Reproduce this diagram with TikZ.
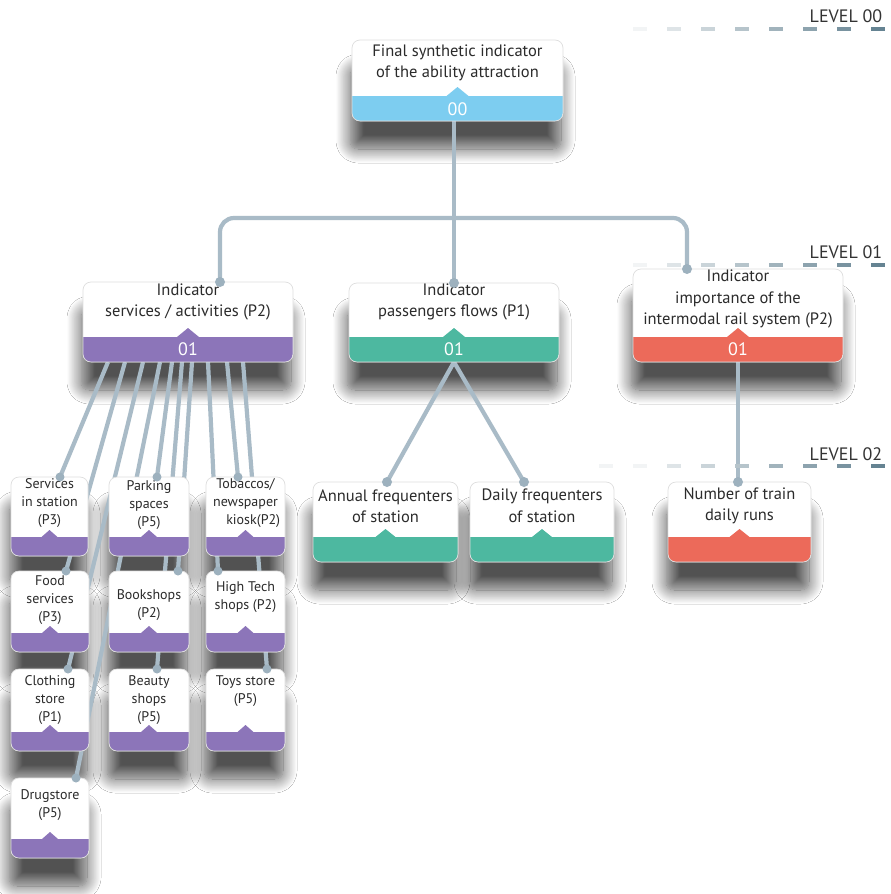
\documentclass[tikz,border=0pt]{standalone}
\usepackage{fontspec}
\setmainfont{PT Sans}
\usetikzlibrary{calc,fit,shadows.blur}
\pgfdeclarelayer{shadowl}
\pgfdeclarelayer{linel}
\pgfdeclarelayer{topl}
\pgfsetlayers{shadowl,linel,main,topl}
\definecolor{cblue}{HTML}{7DCDF0}
\definecolor{cpurple}{HTML}{8C75B9}
\definecolor{cteal}{HTML}{4DB8A0}
\definecolor{ccoral}{HTML}{EC6A5A}
\definecolor{wirec}{HTML}{A9BBC7}
\definecolor{dotc}{HTML}{9DB1BE}
\definecolor{dashd}{HTML}{587888}
\definecolor{txtc}{HTML}{2B2B2B}
\newcommand\card[8][]{%
  \node[card=#7, bandh=#8, #1, fit={(#3,#4) (#5,#6)}] (#2) {};
  \begin{pgfonlayer}{shadowl}
    \fill[white, rounded corners=8pt, blur shadow={shadow xshift=-2pt, shadow yshift=-28pt, shadow blur radius=14pt, shadow blur steps=16, shadow opacity=68}] (#2.south west) rectangle (#2.north east);
  \end{pgfonlayer}
}
\newcommand\lvldashes[2]{%
  \foreach \i in {0,...,#2} {
    \pgfmathsetmacro\dxa{871-34*\i}
    \pgfmathtruncatemacro\dpc{max(8,92-\i*12)}
    \draw[draw=dashd!\dpc!white, line width=3.5pt] (\dxa,#1) -- ++(14,0);
  }%
}
\begin{document}
\begin{tikzpicture}[x=1pt,y=-1pt,
  bandh/.store in=\bandh, bandh=25,
  notchw/.store in=\notchw, notchw=11,
  notchh/.store in=\notchh, notchh=9,
  card/.style={draw=black!13, line width=0.7pt, rounded corners=8pt, fill=white, inner sep=0pt, outer sep=0pt,
    path picture={
      \fill[#1, sharp corners] ($(path picture bounding box.south west)+(0,-\bandh)$) rectangle (path picture bounding box.south east);
      \fill[#1, sharp corners] ($(path picture bounding box.south)+(-\notchw,-\bandh)$) -- ($(path picture bounding box.south)+(0,-\bandh-\notchh)$) -- ($(path picture bounding box.south)+(\notchw,-\bandh)$) -- cycle;
    }},
  small/.style={notchw=8, notchh=7},
  wire/.style={draw=wirec, line width=4.2pt},
  tdot/.style={fill=dotc},
  tbig/.style={text=txtc, font=\fontsize{16.5}{21.5}\selectfont, align=center, inner sep=0pt},
  tsmall/.style={text=txtc, font=\fontsize{14}{18}\selectfont, align=center, inner sep=0pt},
  bandnum/.style={text=white, font=\fontsize{18}{18}\selectfont, inner sep=0pt},
  lvl/.style={text=black!80, font=\fontsize{18}{18}\selectfont, inner sep=0pt}
]
\begin{pgfonlayer}{shadowl}
  \fill[white] (0,0) rectangle (891,894);
\end{pgfonlayer}
\useasboundingbox (0,0) rectangle (891,894);

% dashed guide lines and level labels
\lvldashes{29}{7}
\lvldashes{265}{7}
\lvldashes{466}{8}
\node[lvl] (lv0) at (846,16) {LEVEL 00};
\node[lvl] (lv1) at (846,252) {LEVEL 01};
\node[lvl] (lv2) at (846,454) {LEVEL 02};

% level 00
\card{b00}{352}{40}{563}{121}{cblue}{25}
\node[tbig] (b00t) at (457.5,63) {Final synthetic indicator\\of the ability attraction};
\node[bandnum] (b00n) at (457.5,109) {00};

% level 01
\card{b01a}{83}{282}{293}{362}{cpurple}{25}
\node[tbig] (b01at) at (188,302) {Indicator\\services / activities (P2)};
\node[bandnum] (b01an) at (188,349) {01};
\card{b01b}{349}{283}{559}{362}{cteal}{25}
\node[tbig] (b01bt) at (454,302) {Indicator\\passengers flows (P1)};
\node[bandnum] (b01bn) at (454,349) {01};
\card{b01c}{633}{269}{843}{362}{ccoral}{25}
\node[tbig] (b01ct) at (738,299) {Indicator\\importance of the\\intermodal rail system (P2)};
\node[bandnum] (b01cn) at (738,349) {01};

% level 02
\card[notchw=10,notchh=8]{c1}{313}{482}{458}{562}{cteal}{25}
\node[tbig] (c1t) at (385.5,506) {Annual frequenters\\of station};
\card[notchw=10,notchh=8]{c2}{470}{482}{614}{562}{cteal}{25}
\node[tbig] (c2t) at (542,506) {Daily frequenters\\of station};
\card[notchw=10,notchh=8]{c3}{668}{482}{811}{562}{ccoral}{25}
\node[tbig] (c3t) at (739.5,506) {Number of train\\daily runs};

% small boxes
\card[small]{s11}{11}{477}{88}{556}{cpurple}{19}
\card[small]{s12}{109}{477}{189}{556}{cpurple}{19}
\card[small]{s13}{206}{477}{285}{556}{cpurple}{19}
\card[small]{s21}{11}{571}{89}{652}{cpurple}{19}
\card[small]{s22}{109}{571}{189}{652}{cpurple}{19}
\card[small]{s23}{206}{571}{285}{652}{cpurple}{19}
\card[small]{s31}{11}{669}{89}{751}{cpurple}{19}
\card[small]{s32}{109}{669}{189}{751}{cpurple}{19}
\card[small]{s33}{206}{669}{285}{751}{cpurple}{19}
\card[small]{s41}{11}{778}{89}{858}{cpurple}{19}
\node[tsmall] (s11t) at (49.5,503) {Services\\in station\\(P3)};
\node[tsmall] (s12t) at (149,505) {Parking\\spaces\\(P5)};
\node[tsmall] (s13t) at (245.5,503) {Tobaccos/\\newspaper\\\hspace*{1.1em}kiosk(P2)};
\node[tsmall] (s21t) at (50,600) {Food\\services\\(P3)};
\node[tsmall] (s22t) at (149,605) {Bookshops\\(P2)};
\node[tsmall] (s23t) at (245.5,597) {High Tech\\shops (P2)};
\node[tsmall] (s31t) at (50,700) {Clothing\\store\\(P1)};
\node[tsmall] (s32t) at (149,700) {Beauty\\shops\\(P5)};
\node[tsmall] (s33t) at (245.5,691) {Toys store\\(P5)};
\node[tsmall] (s41t) at (50,805) {Drugstore\\(P5)};

% connectors
\coordinate (hl) at (220,218);
\coordinate (hr) at (687,218);
\begin{pgfonlayer}{linel}
  \draw[wire] (b00.south -| b01b.north) -- (b01b.north);
  \draw[wire, rounded corners=14pt] ($(b01a.north)+(32,0)$) -- (hl) -- (hr) -- ($(b01c.north)+(-51,0)$);
  \draw[wire] (b01b.south) -- ($(c1.north)+(1.5,0)$);
  \draw[wire] (b01b.south) -- ($(c2.north)+(-18,0)$);
  \draw[wire] (b01c.south) -- (b01c.south |- c3.north);
  \foreach \sa/\tn/\tx in {25/s11/10.5, 42/s21/16, 60/s31/18, 77/s41/26, 89/s12/8, 99/s32/8, 109/s22/29, 125/s23/-27.5, 144/s13/-7.5, 160/s33/21.5} {
    \draw[wire] ($(b01a.south west)+(\sa,0)$) -- ($(\tn.north)+(\tx,0)$);
  }
\end{pgfonlayer}
\begin{pgfonlayer}{topl}
  \fill[tdot] ($(b01a.north)+(32,0)$) circle[radius=5pt];
  \fill[tdot] (b01b.north) circle[radius=5pt];
  \fill[tdot] ($(b01c.north)+(-51,0)$) circle[radius=5pt];
  \fill[tdot] ($(c1.north)+(1.5,0)$) circle[radius=5pt];
  \fill[tdot] ($(c2.north)+(-18,0)$) circle[radius=5pt];
  \fill[tdot] (b01c.south |- c3.north) circle[radius=5pt];
  \foreach \tn/\tx in {s11/10.5, s21/16, s31/18, s41/26, s12/8, s32/8, s22/29, s23/-27.5, s13/-7.5, s33/21.5} {
    \fill[tdot] ($(\tn.north)+(\tx,0)$) circle[radius=4.5pt];
  }
\end{pgfonlayer}
\end{tikzpicture}
\end{document}
